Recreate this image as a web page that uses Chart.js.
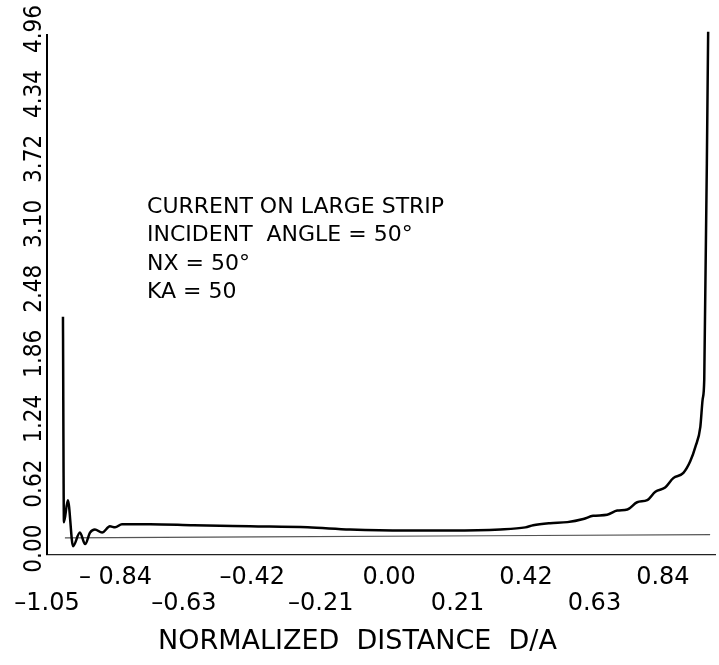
<!DOCTYPE html>
<html>
<head>
<meta charset="utf-8">
<title>Current on large strip</title>
<script src="https://cdn.jsdelivr.net/npm/chart.js@4.4.1/dist/chart.umd.min.js"></script>
<style>
  body { margin: 0; background: #fff; }
  canvas { display: block; }
</style>
</head>
<body>
<canvas id="stripChart" width="719" height="665"></canvas>
<script>
// values
const currentX = [-1.001, -0.998, -0.986, -0.970, -0.949, -0.933, -0.918, -0.903, -0.881, -0.857,
  -0.841, -0.820, -0.734, -0.600, -0.427, -0.250, -0.120, 0.050, 0.187, 0.341,
  0.418, 0.442, 0.494, 0.547, 0.596, 0.626, 0.669, 0.700, 0.731, 0.761,
  0.792, 0.817, 0.847, 0.872, 0.903, 0.924, 0.940, 0.955, 0.962, 0.967, 0.979];
const currentY = [2.27, 0.31, 0.52, 0.08, 0.21, 0.10, 0.21, 0.24, 0.21, 0.27,
  0.26, 0.29, 0.29, 0.28, 0.27, 0.26, 0.24, 0.23, 0.23, 0.24,
  0.26, 0.28, 0.30, 0.31, 0.34, 0.37, 0.38, 0.42, 0.43, 0.50,
  0.52, 0.60, 0.64, 0.73, 0.78, 0.89, 1.03, 1.22, 1.48, 1.67, 4.99];

// thin reference line just above the axis
const refX = [-0.995, -0.40, 0.30, 0.985];
const refY = [0.16, 0.17, 0.18, 0.19];

const xTickValues = [-1.05, -0.84, -0.63, -0.42, -0.21, 0.00, 0.21, 0.42, 0.63, 0.84];
const xTickLabels = ["–1.05", "– 0.84", "–0.63", "–0.42", "–0.21", "0.00", "0.21", "0.42", "0.63", "0.84"];
const yTickValues = [0.00, 0.62, 1.24, 1.86, 2.48, 3.10, 3.72, 4.34, 4.96];
const yTickLabels = ["0.00", "0.62", "1.24", "1.86", "2.48", "3.10", "3.72", "4.34", "4.96"];

const noteLines = ["CURRENT ON LARGE STRIP", "INCIDENT  ANGLE = 50°", "NX = 50°", "KA = 50"];
const noteAnchor = { x: -0.743, y: 3.32 };
const xTitle = "NORMALIZED  DISTANCE  D/A";

const FONT = "'DejaVu Sans', sans-serif";

// draws the text block inside the plot, anchored in data units
const notePlugin = {
  id: "noteText",
  afterDatasetsDraw(chart) {
    const ctx = chart.ctx;
    const x0 = chart.scales.x.getPixelForValue(noteAnchor.x);
    const y0 = chart.scales.y.getPixelForValue(noteAnchor.y);
    ctx.save();
    ctx.fillStyle = "#000";
    ctx.font = "22px " + FONT;
    ctx.textAlign = "left";
    ctx.textBaseline = "middle";
    noteLines.forEach((line, i) => {
      ctx.fillText(line, x0, y0 + i * 28.5);
    });
    ctx.restore();
  },
};

function toPoints(xs, ys) {
  return xs.map((x, i) => ({ x: x, y: ys[i] }));
}

const context = document.getElementById("stripChart").getContext("2d");

new Chart(context, {
  type: "line",
  data: {
    datasets: [
      {
        label: "Current",
        data: toPoints(currentX, currentY),
        borderColor: "#000",
        borderWidth: 2.5,
        pointRadius: 0,
        cubicInterpolationMode: "monotone",
        clip: false,
      },
      {
        label: "Reference",
        data: toPoints(refX, refY),
        borderColor: "#555",
        borderWidth: 1.2,
        pointRadius: 0,
      },
    ],
  },
  options: {
    responsive: false,
    animation: false,
    devicePixelRatio: 1,
    layout: { padding: { top: 35, right: 4, left: 0, bottom: 0 } },
    plugins: {
      legend: { display: false },
      tooltip: { enabled: false },
      title: {
        display: true,
        position: "bottom",
        text: xTitle,
        color: "#000",
        font: { family: FONT, size: 27, weight: "normal", lineHeight: 1.2 },
        padding: { top: 0, bottom: 7 },
      },
    },
    scales: {
      x: {
        type: "linear",
        min: -1.05,
        max: 1.0,
        afterBuildTicks: (scale) => {
          scale.ticks = xTickValues.map((v) => ({ value: v }));
        },
        afterFit: (scale) => {
          scale.height = 71;
        },
        grid: { display: false, drawTicks: false },
        border: { display: true, color: "#222", width: 1.3 },
        ticks: {
          autoSkip: false,
          maxRotation: 0,
          minRotation: 0,
          padding: 10,
          color: "#000",
          font: { family: FONT, size: 24, lineHeight: 1.1 },
          callback: (value, index) =>
            index % 2 === 0 ? ["", xTickLabels[index]] : [xTickLabels[index]],
        },
      },
      y: {
        min: 0,
        max: 4.96,
        afterBuildTicks: (scale) => {
          scale.ticks = yTickValues.map((v) => ({ value: v }));
        },
        afterFit: (scale) => {
          scale.width = 47;
        },
        grid: { display: false, drawTicks: false },
        border: { display: true, color: "#000", width: 2 },
        ticks: {
          autoSkip: false,
          minRotation: 90,
          maxRotation: 90,
          crossAlign: "center",
          padding: -12,
          labelOffset: -6,
          color: "#000",
          font: { family: "'Liberation Sans Narrow', 'DejaVu Sans Condensed', " + FONT, size: 24 },
          callback: (value, index) => yTickLabels[index],
        },
      },
    },
  },
  plugins: [notePlugin],
});
</script>
</body>
</html>
